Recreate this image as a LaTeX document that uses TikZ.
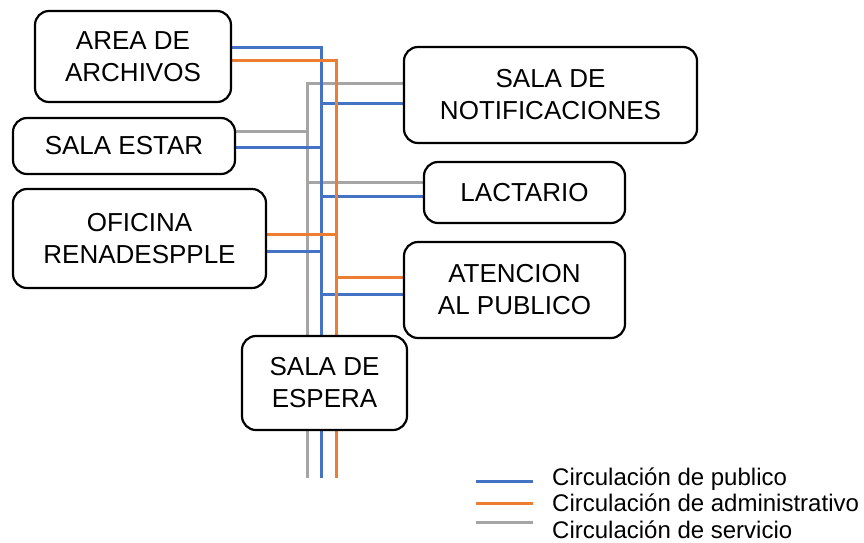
\documentclass[tikz,border=0pt]{standalone}
\usepackage{fontspec}
\setmainfont{Liberation Sans}
\usetikzlibrary{backgrounds}
\definecolor{pubblue}{HTML}{4472C4}
\definecolor{admorange}{HTML}{ED7D31}
\definecolor{servgray}{HTML}{A5A5A5}

\begin{document}
\begin{tikzpicture}[x=1pt, y=-1pt,
  room/.style={draw, line width=2.2pt, rounded corners=14pt, fill=white, align=center, inner sep=2pt, font=\fontsize{26}{32}\selectfont},
  pub/.style={pubblue, line width=3pt},
  adm/.style={admorange, line width=3pt},
  serv/.style={servgray, line width=3pt},
  leg/.style={anchor=base west, inner sep=0pt, font=\fontsize{24}{28}\selectfont}
]
\useasboundingbox (0,0) rectangle (864,542);
\node[room, minimum width=196pt, minimum height=91pt] (archivos) at (133,56.5) {AREA DE\\ARCHIVOS};
\node[room, minimum width=222pt, minimum height=56pt] (estar) at (124,146) {SALA ESTAR};
\node[room, minimum width=253pt, minimum height=99pt] (oficina) at (139.5,238.5) {OFICINA\\RENADESPPLE};
\node[room, minimum width=293pt, minimum height=96pt] (notif) at (550.5,95) {SALA DE\\NOTIFICACIONES};
\node[room, minimum width=201pt, minimum height=61pt] (lactario) at (524.5,192.5) {LACTARIO};
\node[room, minimum width=221pt, minimum height=96pt] (atencion) at (514.5,290) {ATENCION\\AL PUBLICO};
\node[room, minimum width=165pt, minimum height=94pt] (espera) at (324.5,383) {SALA DE\\ESPERA};

% junctions on the three trunks
\coordinate (s0) at (307,83);
\coordinate (s1) at (307,131);
\coordinate (s2) at (307,182);
\coordinate (sb) at (307,478);
\coordinate (p0) at (321,47);
\coordinate (p1) at (321,103);
\coordinate (p2) at (321,147);
\coordinate (p3) at (321,196);
\coordinate (p4) at (321,251);
\coordinate (p5) at (321,294);
\coordinate (pb) at (321,478);
\coordinate (a0) at (336,60);
\coordinate (a1) at (336,234);
\coordinate (a2) at (336,277);
\coordinate (ab) at (336,478);

\begin{scope}[on background layer]
\fill[white] (0,0) rectangle (864,542);
\draw[serv] (notif.west |- s0) -- (s0) -- (sb);
\draw[serv] (estar.east |- s1) -- (s1);
\draw[serv] (s2) -- (lactario.west |- s2);
\draw[pub] (archivos.east |- p0) -- (p0) -- (pb);
\draw[pub] (p1) -- (notif.west |- p1);
\draw[pub] (estar.east |- p2) -- (p2);
\draw[pub] (p3) -- (lactario.west |- p3);
\draw[pub] (oficina.east |- p4) -- (p4);
\draw[pub] (p5) -- (atencion.west |- p5);
\draw[adm] (archivos.east |- a0) -- (a0) -- (ab);
\draw[adm] (oficina.east |- a1) -- (a1);
\draw[adm] (a2) -- (atencion.west |- a2);
\end{scope}

% legend
\draw[pub] (476,481) -- (533,481);
\draw[adm] (476,503) -- (533,503);
\draw[serv] (476,522) -- (533,522);
\node[leg] (legpub) at (552,485) {Circulación de publico};
\node[leg] (legadm) at (552,511.5) {Circulación de administrativo};
\node[leg] (legserv) at (552,538) {Circulación de servicio};
\end{tikzpicture}
\end{document}
